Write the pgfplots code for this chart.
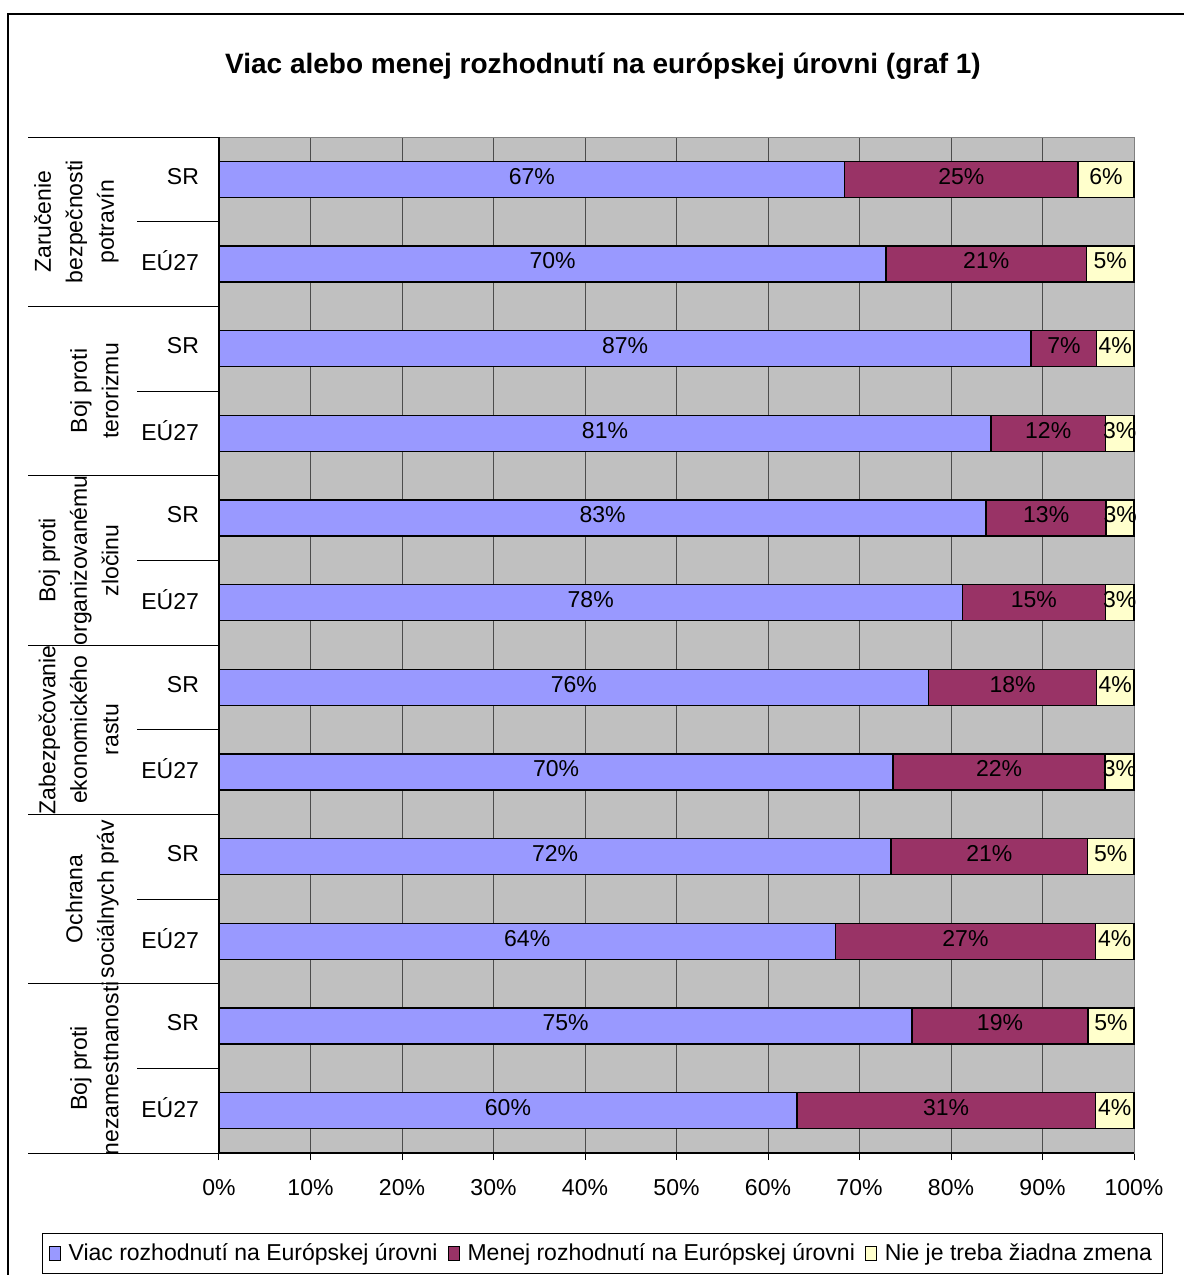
\documentclass[border=0pt]{standalone}
\usepackage{pgfplots}
\pgfplotsset{compat=1.18}
\usepackage{pgfplotstable}
\usepackage{fontspec}
\setmainfont{Liberation Sans}

\definecolor{viac}{HTML}{9999FF}
\definecolor{menej}{HTML}{993366}
\definecolor{nie}{HTML}{FFFFCC}
\definecolor{plotbg}{HTML}{C0C0C0}

% r = row position (12 = top), a = viac, b = menej, c = nie je treba
\pgfplotstableread{
r  a  b  c
12 67 25 6
11 70 21 5
10 87 7  4
9  81 12 3
8  83 13 3
7  78 15 3
6  76 18 4
5  70 22 3
4  72 21 5
3  64 27 4
2  75 19 5
1  60 31 4
}\udaje

\newcommand{\suma}{(\thisrow{a}+\thisrow{b}+\thisrow{c})}

\begin{document}
\begin{tikzpicture}
\begin{scope}[x=0.5pt,y=-0.5pt]
\useasboundingbox (0,0) rectangle (1184,1275);
\draw[line width=1pt] (8,1275) -- (8,14) -- (1184,14);
\node[font=\bfseries\fontsize{14}{17}\selectfont] at (603,66)
  {Viac alebo menej rozhodnutí na európskej úrovni (graf 1)};
\coordinate (o) at (219,1153);
\end{scope}
\begin{axis}[
  at={(o)}, anchor=south west,
  scale only axis, width=457.5pt, height=508pt,
  xmin=0, xmax=100, ymin=0.5, ymax=12.5,
  clip=false,
  axis background/.style={fill=plotbg},
  axis line style={draw=black!50, line width=0.5pt},
  xmajorgrids, grid style={black!70, line width=0.5pt},
  xtick={0,10,...,100},
  xticklabels={0\%,10\%,20\%,30\%,40\%,50\%,60\%,70\%,80\%,90\%,100\%},
  xtick pos=left, tick align=outside, major tick length=3.5pt,
  xtick style={black, line width=0.5pt},
  ytick={1,...,12},
  yticklabels={EÚ27,SR,EÚ27,SR,EÚ27,SR,EÚ27,SR,EÚ27,SR,EÚ27,SR},
  ytick style={draw=none}, ytick pos=left,
  tick label style={font=\fontsize{11.5}{13}\selectfont},
  xticklabel style={yshift=-6pt},
  yticklabel style={xshift=-3pt, yshift=1.5pt},
  /pgf/number format/assume math mode=true,
  legend columns=3,
  legend image code/.code={\draw[#1,draw=black,line width=0.4pt] (0pt,-3.5pt) rectangle (5.5pt,3.5pt);
    \path (7.5pt,0pt);},
  legend style={at={(0.419,-0.0787)}, anchor=north, draw=black, line width=0.5pt,
    font=\fontsize{11.5}{13}\selectfont, inner sep=3pt,
    /tikz/every even column/.append style={column sep=3pt}},
]
\addlegendimage{fill=viac}
\addlegendentry{Viac rozhodnutí na Európskej úrovni}
\addlegendimage{fill=menej}
\addlegendentry{Menej rozhodnutí na Európskej úrovni}
\addlegendimage{fill=nie}
\addlegendentry{Nie je treba žiadna zmena}

% bars drawn back to front: full length, then a+b, then a
\addplot[forget plot, xbar, bar width=18pt, bar shift=0pt, fill=nie, draw=black, line width=0.8pt]
  table[y=r, x expr={100*\suma/\suma}] {\udaje};
\addplot[forget plot, xbar, bar width=18pt, bar shift=0pt, fill=menej, draw=black, line width=0.8pt]
  table[y=r, x expr={100*(\thisrow{a}+\thisrow{b})/\suma}] {\udaje};
\addplot[forget plot, xbar, bar width=18pt, bar shift=0pt, fill=viac, draw=black, line width=0.8pt]
  table[y=r, x expr={100*\thisrow{a}/\suma}] {\udaje};

% labels in the middle of each segment
\pgfplotsset{lbl/.style={forget plot, draw=none, mark=none, point meta=explicit,
  nodes near coords={\pgfmathprintnumber{\pgfplotspointmeta}\%},
  every node near coord/.append style={anchor=center, yshift=1.5pt, font=\fontsize{11.5}{13}\selectfont, inner sep=0pt}}}
\addplot[lbl] table[y=r, x expr={100*(\thisrow{a}/2)/\suma}, meta=a] {\udaje};
\addplot[lbl] table[y=r, x expr={100*(\thisrow{a}+\thisrow{b}/2)/\suma}, meta=b] {\udaje};
\addplot[lbl] table[y=r, x expr={100*(\thisrow{a}+\thisrow{b}+\thisrow{c}/2)/\suma}, meta=c] {\udaje};

% category separators on the left
\pgfplotsinvokeforeach{0.5,2.5,4.5,6.5,8.5,10.5,12.5}{
  \draw[black, line width=0.5pt] (axis cs:0,#1) -- ++(-95.5pt,0pt);}
\pgfplotsinvokeforeach{1.5,3.5,5.5,7.5,9.5,11.5}{
  \draw[black, line width=0.5pt] (axis cs:0,#1) -- ++(-41pt,0pt);}

\tikzset{grp/.style={rotate=90, anchor=south, align=center, inner sep=0pt,
  font=\fontsize{11.5}{15.75}\selectfont}}
\node[grp] at ([xshift=-50pt]axis cs:0,11.5) {Zaručenie\\bezpečnosti\\potravín};
\node[grp] at ([xshift=-50pt]axis cs:0,9.5) {Boj proti\\terorizmu};
\node[grp] at ([xshift=-50pt]axis cs:0,7.5) {Boj proti\\organizovanému\\zločinu};
\node[grp] at ([xshift=-50pt]axis cs:0,5.5) {Zabezpečovanie\\ekonomického\\rastu};
\node[grp] at ([xshift=-50pt]axis cs:0,3.5) {Ochrana\\sociálnych práv};
\node[grp] at ([xshift=-50pt]axis cs:0,1.5) {Boj proti\\nezamestnanosti};
\end{axis}
\draw[black, line width=0.6pt] (current axis.north west) -- (current axis.south west) -- (current axis.south east);
\end{tikzpicture}
\end{document}
